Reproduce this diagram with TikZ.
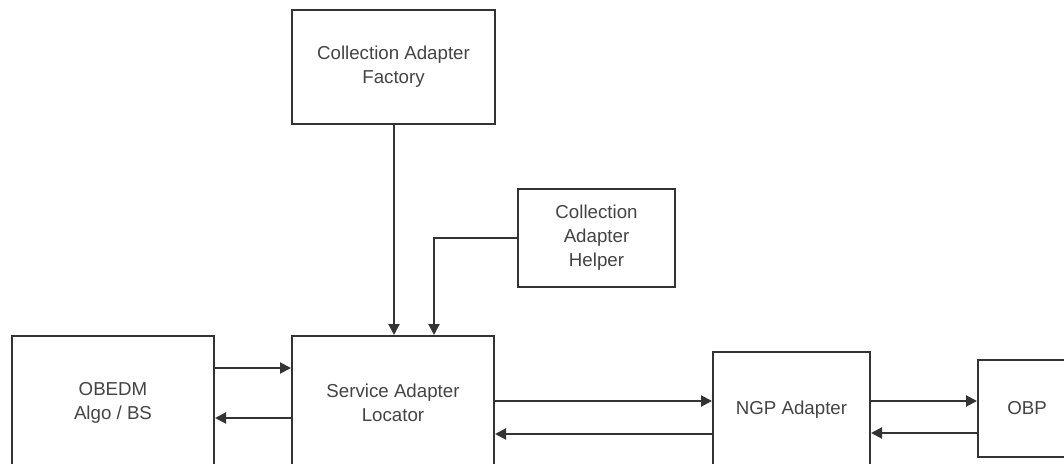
\documentclass[tikz,border=0pt]{standalone}
\usepackage{fontspec}
\setmainfont{Liberation Sans}
\usetikzlibrary{arrows.meta}
\definecolor{linec}{HTML}{333333}
\definecolor{textc}{HTML}{444444}
\begin{document}
\begin{tikzpicture}[x=1pt,y=-1pt,
  blk/.style={draw=linec, line width=2pt, fill=white, inner sep=0pt, align=center,
    text=textc, font=\fontsize{18.7}{24}\selectfont},
  arr/.style={draw=linec, line width=2pt, -{Triangle[length=11pt,width=11pt]}}]
\useasboundingbox (0,0) rectangle (1064,463);
\clip (0,0) rectangle (1064,463);
\node[blk, minimum width=203pt, minimum height=114pt] (caf) at (393.5,67) {Collection Adapter\\Factory};
\node[blk, minimum width=157pt, minimum height=98pt] (cah) at (596.5,238) {Collection\\Adapter\\Helper};
\node[blk, minimum width=202pt, minimum height=134pt] (obedm) at (113,403) {OBEDM\\Algo / BS};
\node[blk, minimum width=202pt, minimum height=134pt] (sal) at (393,403) {Service Adapter\\Locator};
\node[blk, minimum width=157pt, minimum height=116pt] (ngp) at (791.5,410) {NGP Adapter};
\node[blk, minimum width=98pt, minimum height=97pt] (obp) at (1027,408.5) {OBP};
\coordinate (hk) at (434,238);
\draw[arr] (caf.south -| 394,0) -- (sal.north -| 394,0);
\draw[arr] (cah.west) -- (hk) -- (sal.north -| hk);
\draw[arr] (obedm.east |- 0,368) -- (sal.west |- 0,368);
\draw[arr] (sal.west |- 0,418) -- (obedm.east |- 0,418);
\draw[arr] (sal.east |- 0,401) -- (ngp.west |- 0,401);
\draw[arr] (ngp.west |- 0,434) -- (sal.east |- 0,434);
\draw[arr] (ngp.east |- 0,401) -- (obp.west |- 0,401);
\draw[arr] (obp.west |- 0,433) -- (ngp.east |- 0,433);
\end{tikzpicture}
\end{document}
